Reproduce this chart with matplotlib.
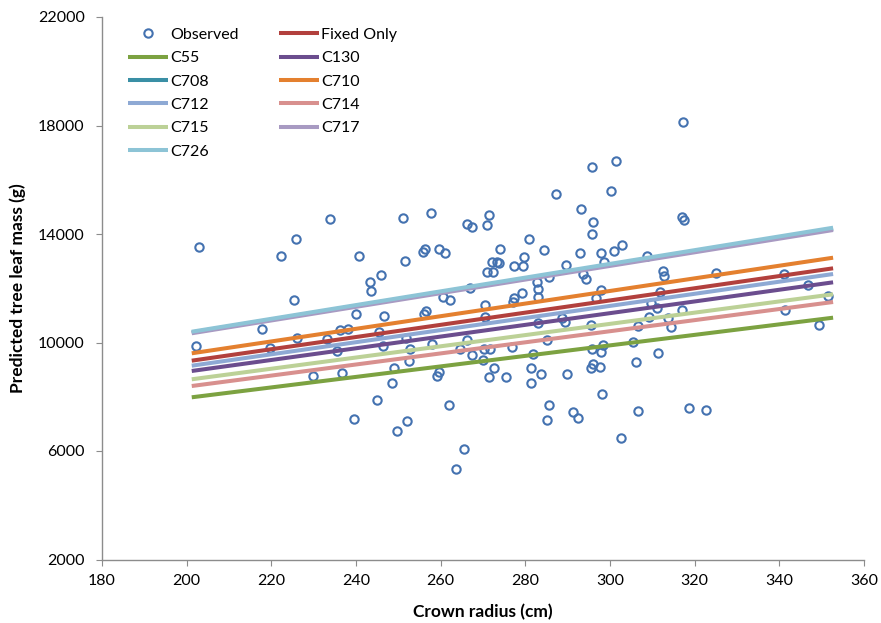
import matplotlib
matplotlib.use("Agg")
import matplotlib.pyplot as plt

plt.rcParams['font.family'] = ['Lato', 'DejaVu Sans']

# Observed points: crown radius (cm), leaf mass (g)
x_obs = [202.1, 202.9, 217.9, 219.8, 222.3, 225.3, 225.9, 226.1, 229.8, 233.2,
         233.9, 235.4, 236.3, 238.0, 236.6, 239.6, 239.9, 240.8, 243.2, 243.6,
         245.8, 245.0, 246.6, 245.5, 246.3, 249.0, 248.5, 251.2, 251.5, 252.6,
         252.8, 251.8, 252.0, 249.6, 255.9, 256.4, 256.0, 256.5, 257.6, 257.9,
         259.5, 259.1, 259.7, 260.5, 261.0, 262.2, 262.0, 264.6, 263.6, 265.4,
         266.2, 267.3, 266.9, 266.2, 267.3, 270.2, 271.6, 270.1, 270.5, 270.5,
         270.9, 271.4, 270.9, 272.4, 272.1, 273.2, 273.7, 274.0, 271.3, 272.6,
         275.4, 276.8, 277.3, 279.5, 279.6, 279.3, 277.4, 277.2, 280.8, 281.7,
         281.3, 281.3, 282.7, 283.1, 283.1, 283.1, 283.6, 284.4, 285.6, 285.7,
         285.2, 285.0, 287.3, 288.6, 289.4, 289.6, 289.9, 291.2, 292.4, 293.2,
         293.0, 293.6, 294.4, 295.8, 296.0, 295.8, 297.8, 298.5, 297.9, 296.6,
         295.5, 298.4, 297.8, 295.7, 296.1, 295.5, 297.6, 298.0, 300.2, 301.3,
         300.9, 302.8, 302.5, 305.4, 306.6, 306.1, 306.7, 308.7, 309.7, 311.0,
         309.3, 311.8, 311.3, 312.6, 312.8, 313.8, 314.4, 317.0, 317.3, 317.0,
         317.5, 318.7, 322.6, 325.0, 341.1, 341.4, 346.7, 349.4, 351.5]
y_obs = [9870, 13509, 10508, 9796, 13200, 11566, 13815, 10176, 8775, 10116,
         14541, 9685, 10448, 10485, 8863, 7167, 11061, 13177, 12218, 11887,
         12487, 7868, 10965, 10397, 9870, 9059, 8495, 14600, 12993, 9317,
         9759, 10153, 7093, 6747, 13336, 13446, 11039, 11149, 14762, 9950,
         13435, 8752, 8922, 11687, 13288, 11555, 7689, 9747, 5335, 6072,
         14357, 14257, 11997, 10091, 9538, 9747, 9747, 9354, 11381, 10950,
         14342, 14700, 12587, 12609, 12956, 12967, 12941, 13435, 8738, 9048,
         8714, 9845, 12808, 12831, 13140, 11813, 11629, 11504, 13815, 9564,
         9048, 8495, 12218, 11971, 11687, 10716, 8829, 13398, 12425, 7694,
         7130, 10091, 15474, 10891, 10766, 12856, 8829, 7436, 7204, 14932,
         13299, 12540, 12340, 16470, 14430, 14010, 13299, 12950, 11930, 11629,
         10644, 9907, 9660, 9759, 9206, 9071, 9107, 8089, 15585, 16702,
         13373, 13605, 6489, 10030, 10607, 9280, 7473, 13177, 11466, 11260,
         10950, 11872, 9624, 12647, 12462, 10891, 10581, 11197, 18140, 14637,
         14504, 7584, 7521, 12550, 12535, 11197, 12119, 10644, 11724]

# Fitted lines (start, end) over the observed radius range
x_line = [201.2, 352.7]
series = ['Fixed Only', 'C55', 'C130', 'C708', 'C710', 'C712', 'C714', 'C715', 'C717', 'C726']
y_start = [9330, 7980, 8950, 10370, 9602, 9145, 8396, 8644, 10340, 10398]
y_end = [12735, 10915, 12219, 14190, 13126, 12525, 11493, 11777, 14147, 14232]
colors = ['#B2403D', '#7CA241', '#6B4D8E', '#3A8FA5', '#E4802F', '#8EA9D4',
          '#D8908E', '#BCD197', '#A89AC2', '#8DC4D6']

fig = plt.figure(figsize=(8.81, 6.23), dpi=100)
ax = fig.add_axes([102/881, 1-559.5/623, 762/881, 542.5/623])

obs, = ax.plot(x_obs, y_obs, 'o', mfc='none', mec='#4472B0', ms=6, mew=1.5,
               linestyle='none', label='Observed')

handles = {}
for name, y0, y1, c in zip(series, y_start, y_end, colors):
    h, = ax.plot(x_line, [y0, y1], color=c, lw=2.9, solid_capstyle='butt', label=name)
    handles[name] = h

ax.set_xlim(180, 360)
ax.set_ylim(2000, 22000)
ax.set_xticks(range(180, 361, 20))
ax.set_yticks(range(2000, 22001, 4000))
for s in ['top', 'right']:
    ax.spines[s].set_visible(False)
for s in ['left', 'bottom']:
    ax.spines[s].set_color('#8C8C8C')
    ax.spines[s].set_linewidth(1.0)
ax.tick_params(axis='both', direction='out', length=4.5, color='#8C8C8C',
               labelsize=11.5, labelcolor='black')
ax.tick_params(axis='y', pad=8)
ax.tick_params(axis='x', pad=6)

fig.text(18/881, 1-288/623, 'Predicted tree leaf mass (g)', rotation=90,
         ha='center', va='center', fontsize=12.5, fontweight='bold')
fig.text(483/881, 1-612/623, 'Crown radius (cm)', ha='center', va='center',
         fontsize=12.5, fontweight='bold')

order = [obs, handles['C55'], handles['C708'], handles['C712'], handles['C715'], handles['C726'],
         handles['Fixed Only'], handles['C130'], handles['C710'], handles['C714'], handles['C717']]
leg = fig.legend(order, [h.get_label() for h in order], ncol=2, frameon=False,
                 loc='upper left', bbox_to_anchor=(128/881, 1-27.5/623),
                 borderpad=0, borderaxespad=0, fontsize=11.5, handlelength=2.5,
                 handletextpad=0.15, columnspacing=2.5, labelspacing=0.58)

fig.savefig('out.png', dpi=100)
